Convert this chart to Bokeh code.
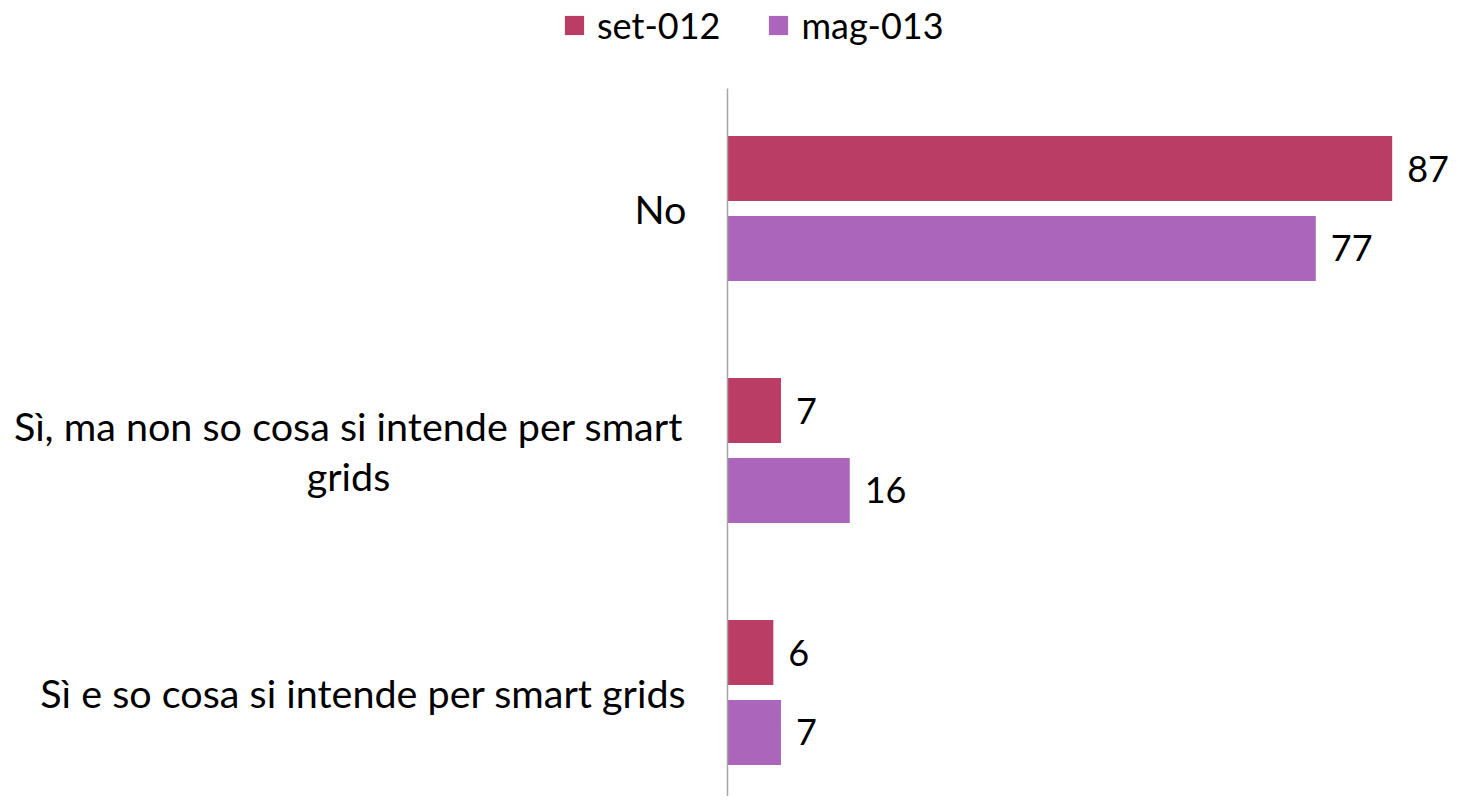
from bokeh.plotting import figure
from bokeh.models import Range1d, ColumnDataSource, Legend, LegendItem
from bokeh.transform import dodge
from bokeh.embed import file_html
from bokeh.resources import INLINE
from bokeh.core.properties import value

categories = ["No", "Sì, ma non so cosa si intende per smart\ngrids", "Sì e so cosa si intende per smart grids"]
series = ["set-012", "mag-013"]
set_012 = [87, 7, 6]
mag_013 = [77, 16, 7]
colors = ["#BA3D66", "#AB66BC"]

FONT = "Lato"
FS = "36px"
CAT_FS = "39.5px"
n = len(categories)
ypos = [n - 1 - i for i in range(n)]

PX = 7.64          # pixels per unit on x
W, H = 1452, 796
X0 = 727           # pixel position of the value axis
ROW = 242          # pixels between categories
TOP_ROW = 208      # pixel position of first category from top
AXIS_TOP = 88      # pixel position where axis line starts

x_start = -X0 / PX
x_end = (W - X0) / PX
y_end = (n - 1) + TOP_ROW / ROW
y_start = y_end - H / ROW
axis_top = y_end - AXIS_TOP / ROW

src = ColumnDataSource(dict(y=ypos, s1=set_012, s2=mag_013,
                            t1=[str(v) for v in set_012], t2=[str(v) for v in mag_013]))

multi = ["\n" in c for c in categories]
lab_src = ColumnDataSource(dict(
    y=ypos, x=[0] * n, text=categories,
    xo=[-379 if m else -41 for m in multi],
    align=["center" if m else "right" for m in multi]))

p = figure(width=W, height=H, output_backend="svg", toolbar_location=None,
           x_range=Range1d(x_start, x_end), y_range=Range1d(y_start, y_end),
           min_border_left=0, min_border_right=0, min_border_bottom=0, min_border_top=0)
p.xaxis.visible = False
p.yaxis.visible = False
p.xgrid.visible = False
p.ygrid.visible = False
p.outline_line_color = None

off = 0.165
h = 0.269
r1 = p.hbar(y=dodge("y", off), right="s1", left=0, height=h, source=src, fill_color=colors[0], line_color=None)
r2 = p.hbar(y=dodge("y", -off), right="s2", left=0, height=h, source=src, fill_color=colors[1], line_color=None)

# value axis line
p.segment(x0=0, y0=y_start, x1=0, y1=axis_top, line_color="#A6A6A6", line_width=1.5)

for col, d in (("1", off), ("2", -off)):
    p.text(x="s" + col, y=dodge("y", d), text="t" + col, source=src, x_offset=15,
           text_baseline="middle", text_align="left", text_font=value(FONT),
           text_font_size=FS, text_color="#000000")

p.text(x="x", y="y", text="text", source=lab_src, x_offset="xo", text_align="align",
       text_baseline="middle", text_font=value(FONT), text_font_size=CAT_FS,
       text_color="#000000", text_line_height=1.08)

legend = Legend(items=[LegendItem(label=series[0], renderers=[r1]),
                       LegendItem(label=series[1], renderers=[r2])],
                orientation="horizontal", location=(562, H - 47),
                glyph_width=24, glyph_height=24, label_standoff=11, spacing=46,
                label_text_font=FONT, label_text_font_size=FS, label_text_color="#000000",
                border_line_color=None, background_fill_alpha=0, padding=4, margin=0)
p.add_layout(legend)

open("out.html", "w").write(file_html(p, INLINE))
